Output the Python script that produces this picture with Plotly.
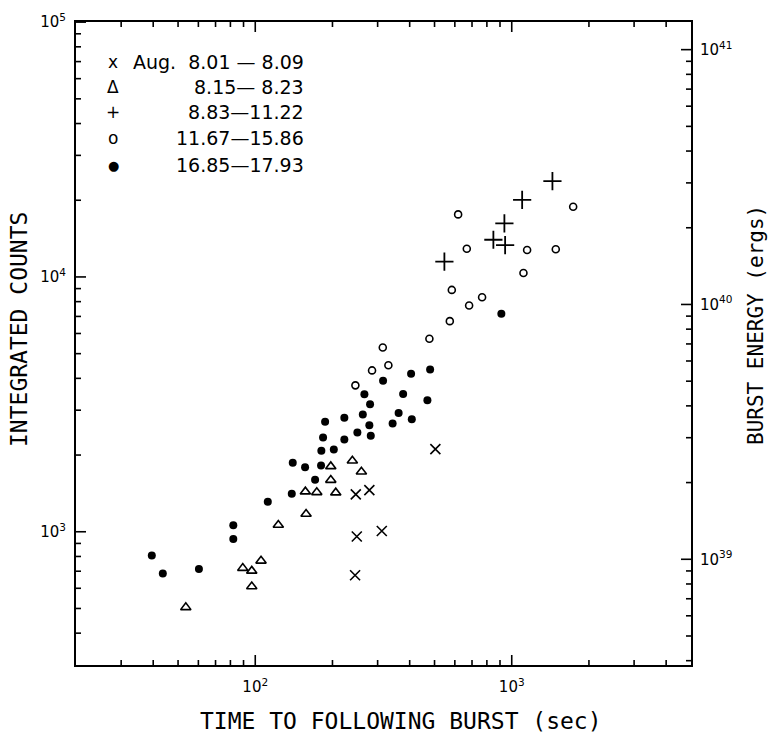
import math
import plotly.graph_objects as go

# ---- data (time to following burst [s], integrated counts) ----
x_aug801 = [246.6, 278.5, 248.8, 311.4, 245.0, 503.8]
y_aug801 = [1402, 1457, 958, 1007, 675, 2109]

x_aug815 = [197.0, 239.1, 259.3, 197.0, 156.8, 173.7, 206.0, 157.8, 123.0, 105.3, 89.4, 96.9, 96.9, 53.6]
y_aug815 = [1805, 1900, 1720, 1595, 1437, 1428, 1424, 1174, 1063, 769, 720, 702, 610, 505]

x_aug883 = [546.3, 848.1, 942.3, 936.2, 1098, 1441]
y_aug883 = [11478, 13996, 13343, 16228, 20068, 23755]

x_aug1167 = [314.2, 330.4, 285.3, 245.7, 477.5, 573.5, 682.1, 766.3, 583.9, 1111, 1148, 1485, 668.0, 618.0, 1736]
y_aug1167 = [5288, 4504, 4297, 3754, 5718, 6707, 7722, 8329, 8894, 10368, 12756, 12836, 12910, 17597, 18847]

x_aug1685 = [39.5, 43.6, 60.3, 82.1, 82.1, 111.9, 138.8, 140.0, 156.4, 171.1, 180.5, 181.0,
             183.8, 187.2, 202.4, 222.5, 222.5, 250.1, 262.6, 280.3, 278.5, 282.1, 266.4, 315.0,
             343.2, 362.2, 405.1, 480.6, 377.2, 469.0, 407.7, 911.0]
y_aug1685 = [807, 686, 715, 1060, 937, 1313, 1411, 1866, 1793, 1601, 1821, 2079,
             2344, 2700, 2103, 2799, 2301, 2451, 2884, 3164, 2618, 2380, 3462, 3917,
             2659, 2923, 4173, 4337, 3475, 3280, 2764, 7165]

legend_symbols = ["x", "\u0394", "+", "o", "\u25CF"]
legend_labels = ["Aug.  8.01 \u2014 8.09", "8.15\u2014 8.23", "8.83\u201411.22",
                 "11.67\u201415.86", "16.85\u201417.93"]

# axes
x_range = [20, 5000]
y_range = [300, 100000]
energy_offset_log = 36.108  # log10(ergs per count)
x_major = [100, 1000]
x_major_text = ["10<sup>2</sup>", "10<sup>3</sup>"]
x_minor = [30, 40, 50, 60, 70, 80, 90, 200, 300, 400, 500, 600, 700, 800, 900, 2000, 3000, 4000]
y_major = [1000, 10000, 100000]
y_major_text = ["10<sup>3</sup>", "10<sup>4</sup>", "10<sup>5</sup>"]
y_minor = [400, 500, 600, 700, 800, 900, 2000, 3000, 4000, 5000, 6000, 7000, 8000, 9000,
           20000, 30000, 40000, 50000, 60000, 70000, 80000, 90000]
e_major = [1e39, 1e40, 1e41]
e_major_text = ["10<sup>39</sup>", "10<sup>40</sup>", "10<sup>41</sup>"]
e_minor = [4e38, 5e38, 6e38, 7e38, 8e38, 9e38, 2e39, 3e39, 4e39, 5e39, 6e39, 7e39, 8e39, 9e39,
           2e40, 3e40, 4e40, 5e40, 6e40, 7e40, 8e40, 9e40]

FONT = "DejaVu Sans"
TITLE_FONT = "DejaVu Sans Mono"
W, H = 770, 748
L, R, T, B = 76, 79, 22, 83
PW, PH = W - L - R, H - T - B
MAJ, MIN = 10, 5  # tick lengths in px

xr = [math.log10(x_range[0]), math.log10(x_range[1])]
yr = [math.log10(y_range[0]), math.log10(y_range[1]) + 0.0005]
er = [yr[0] + energy_offset_log, yr[1] + energy_offset_log]
ppd_x = PW / (xr[1] - xr[0])   # pixels per decade
ppd_y = PH / (yr[1] - yr[0])

fig = go.Figure()
mk_line = dict(width=1.6, color="black")
fig.add_trace(go.Scatter(x=x_aug801, y=y_aug801, mode="markers",
                         marker=dict(symbol="x-thin", size=10, line=mk_line, color="black")))
fig.add_trace(go.Scatter(x=x_aug815, y=y_aug815, mode="markers",
                         marker=dict(symbol="triangle-up-open", size=9, line=mk_line, color="black")))
fig.add_trace(go.Scatter(x=x_aug883, y=y_aug883, mode="markers",
                         marker=dict(symbol="cross-thin", size=13, line=dict(width=1.8, color="black"),
                                     color="black")))
fig.add_trace(go.Scatter(x=x_aug1167, y=y_aug1167, mode="markers",
                         marker=dict(symbol="circle-open", size=7, line=mk_line, color="black")))
fig.add_trace(go.Scatter(x=x_aug1685, y=y_aug1685, mode="markers",
                         marker=dict(symbol="circle", size=8, color="black")))


# ---- inward tick marks built from the tick value arrays (as line traces) ----
def x_tick_segments(vals, ln):
    xs, ys = [], []
    lo, hi = 10 ** xr[0], 10 ** yr[1]
    ylo = 10 ** yr[0]
    for v in vals:
        xs += [v, v, None, v, v, None]
        ys += [ylo, ylo * 10 ** (ln / ppd_y), None, hi, hi / 10 ** (ln / ppd_y), None]
    return xs, ys


def y_tick_segments(vals, ln, right=False):
    xs, ys = [], []
    xlo, xhi = 10 ** xr[0], 10 ** xr[1]
    for v in vals:
        if right:
            xs += [xhi, xhi / 10 ** (ln / ppd_x), None]
        else:
            xs += [xlo, xlo * 10 ** (ln / ppd_x), None]
        ys += [v, v, None]
    return xs, ys


tick_style = dict(mode="lines", line=dict(color="black", width=1.6), hoverinfo="skip",
                  connectgaps=False)
for vals, ln in [(x_major, MAJ), (x_minor, MIN)]:
    xs, ys = x_tick_segments(vals, ln)
    fig.add_trace(go.Scatter(x=xs, y=ys, **tick_style))
for vals, ln in [(y_major, MAJ), (y_minor, MIN)]:
    xs, ys = y_tick_segments(vals, ln)
    fig.add_trace(go.Scatter(x=xs, y=ys, **tick_style))
for vals, ln in [(e_major, MAJ), (e_minor, MIN)]:
    xs, ys = y_tick_segments(vals, ln, right=True)
    fig.add_trace(go.Scatter(x=xs, y=ys, yaxis="y2", **tick_style))

base = dict(type="log", showgrid=False, zeroline=False, ticks="", tickmode="array",
            showline=True, linecolor="black", linewidth=2,
            tickfont=dict(family=FONT, size=15, color="black"))

fig.update_layout(
    width=W, height=H, margin=dict(l=L, r=R, t=T, b=B),
    paper_bgcolor="white", plot_bgcolor="white", showlegend=False,
    xaxis=dict(base, range=xr, tickvals=x_major, ticktext=x_major_text, mirror=True,
               ticklabelstandoff=7),
    yaxis=dict(base, range=yr, tickvals=y_major, ticktext=y_major_text, ticklabelstandoff=5),
    yaxis2=dict(base, range=er, tickvals=e_major, ticktext=e_major_text, overlaying="y",
                side="right", anchor="x", ticklabelstandoff=4),
)


def px_x(p):
    return (p - L) / PW


def px_y(p):
    return (H - B - p) / PH


ann = []
title_font = dict(family=TITLE_FONT, size=23, color="black")
ann.append(dict(text="TIME TO FOLLOWING BURST (sec)", x=px_x(401), y=px_y(721),
                xanchor="center", yanchor="middle",
                xref="paper", yref="paper", showarrow=False, font=title_font))
ann.append(dict(text="INTEGRATED COUNTS", x=px_x(19), y=px_y(330), textangle=-90,
                xanchor="center", yanchor="middle",
                xref="paper", yref="paper", showarrow=False, font=title_font))
ann.append(dict(text="BURST ENERGY (ergs)", x=px_x(756), y=px_y(325), textangle=-90,
                xanchor="center", yanchor="middle",
                xref="paper", yref="paper", showarrow=False,
                font=dict(family=TITLE_FONT, size=21, color="black")))

rows_y = [62, 87, 112, 138, 165]
for sym, lab, ry in zip(legend_symbols, legend_labels, rows_y):
    ann.append(dict(text=sym, x=px_x(113), y=px_y(ry), xref="paper", yref="paper",
                    showarrow=False, xanchor="center", yanchor="middle",
                    font=dict(family=FONT, size=17 if sym != "\u25CF" else 13, color="black")))
    ann.append(dict(text=lab, x=px_x(306), y=px_y(ry), xref="paper", yref="paper",
                    showarrow=False, xanchor="right", yanchor="middle",
                    font=dict(family=FONT, size=19, color="black")))

fig.update_layout(annotations=ann)
fig.write_html("out.html")
